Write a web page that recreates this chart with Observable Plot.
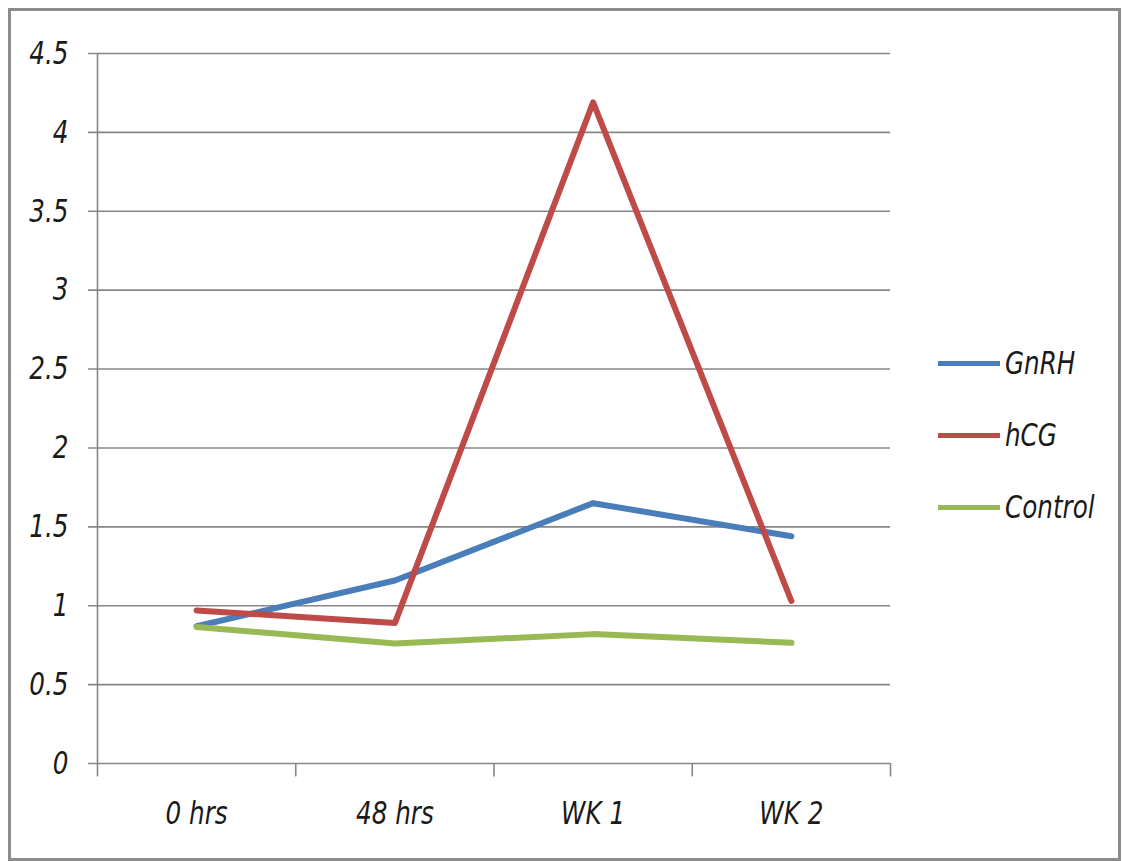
<!DOCTYPE html>
<html>
<head>
<meta charset="utf-8">
<script src="https://cdn.jsdelivr.net/npm/d3@7"></script>
<script src="https://cdn.jsdelivr.net/npm/@observablehq/plot@0.6"></script>
<style>
  html, body { margin: 0; padding: 0; background: #fff; }
  #wrap { position: relative; width: 1124px; height: 861px; overflow: hidden; }
  #frame { position: absolute; left: 8px; top: 8px; width: 1107px; height: 847px; border: 3px solid #8c8c8c; }
  #chart { position: absolute; left: 0; top: 0; }
  #legend { position: absolute; left: 938px; top: 327px; font-family: "DejaVu Sans", sans-serif; font-style: italic; font-size: 32px; color: #1a1a1a; }
  .item { display: flex; align-items: center; height: 72px; }
  .swatch { width: 62px; height: 5px; margin-right: 5px; flex: none; }
  .item span { display: inline-block; transform: scaleX(0.77); transform-origin: left center; white-space: nowrap; }
</style>
</head>
<body>
<div id="wrap">
  <div id="frame"></div>
  <div id="chart"></div>
  <div id="legend"></div>
</div>
<script>
const categories = ["0 hrs", "48 hrs", "WK 1", "WK 2"];
const gnrh = [0.87, 1.16, 1.65, 1.44];
const hcg = [0.97, 0.89, 4.19, 1.03];
const control = [0.865, 0.76, 0.82, 0.765];
const seriesNames = ["GnRH", "hCG", "Control"];
const seriesColors = ["#4a7ebb", "#be4b48", "#98b954"];
const yTicks = [0, 0.5, 1, 1.5, 2, 2.5, 3, 3.5, 4, 4.5];

const seriesValues = [gnrh, hcg, control];
const rows = [];
seriesNames.forEach((name, s) => {
  seriesValues[s].forEach((v, i) => rows.push({series: name, pos: i + 0.5, value: v}));
});
const bounds = d3.range(categories.length + 1);
const catRows = categories.map((c, i) => ({label: c, pos: i + 0.5}));

const font = '"DejaVu Sans", sans-serif';

const chart = Plot.plot({
  width: 1124,
  height: 861,
  marginLeft: 97,
  marginRight: 234,
  marginTop: 53,
  marginBottom: 98,
  style: {background: "transparent", fontFamily: font},
  x: {type: "linear", domain: [0, categories.length], axis: null},
  y: {type: "linear", domain: [0, 4.5], axis: null},
  color: {domain: seriesNames, range: seriesColors},
  marks: [
    Plot.ruleY(yTicks, {x1: -0.045, x2: categories.length, stroke: "#868686", strokeWidth: 1.6}),
    Plot.ruleX([0], {y1: 0, y2: 4.5, stroke: "#868686", strokeWidth: 1.6}),
    Plot.ruleX(bounds, {x: d => d, y1: 0, y2: -0.085, stroke: "#868686", strokeWidth: 1.6}),
    Plot.text(yTicks, {x: 0, y: d => d, text: d => String(d), dx: -29, textAnchor: "end", fontSize: 32, fontStyle: "italic", fill: "#1a1a1a"}),
    Plot.text(catRows, {x: "pos", y: 0, text: "label", dy: 50, fontSize: 32, fontStyle: "italic", fill: "#1a1a1a"}),
    Plot.line(rows, {x: "pos", y: "value", z: "series", stroke: "series", strokeWidth: 6, strokeLinejoin: "round", strokeLinecap: "round"})
  ]
});
// narrow the glyphs horizontally to mimic the condensed face of the original
chart.querySelectorAll("text").forEach(t => {
  const tr = t.getAttribute("transform");
  if (tr) {
    t.setAttribute("transform", tr + " scale(0.77,1)");
  } else {
    const x = +t.getAttribute("x") || 0, y = +t.getAttribute("y") || 0;
    t.removeAttribute("x"); t.removeAttribute("y");
    t.setAttribute("transform", `translate(${x},${y}) scale(0.77,1)`);
  }
});
document.getElementById("chart").appendChild(chart);

const legend = document.getElementById("legend");
seriesNames.forEach((name, s) => {
  const item = document.createElement("div");
  item.className = "item";
  const sw = document.createElement("div");
  sw.className = "swatch";
  sw.style.background = seriesColors[s];
  const lab = document.createElement("span");
  lab.textContent = name;
  item.appendChild(sw);
  item.appendChild(lab);
  legend.appendChild(item);
});
</script>
</body>
</html>
